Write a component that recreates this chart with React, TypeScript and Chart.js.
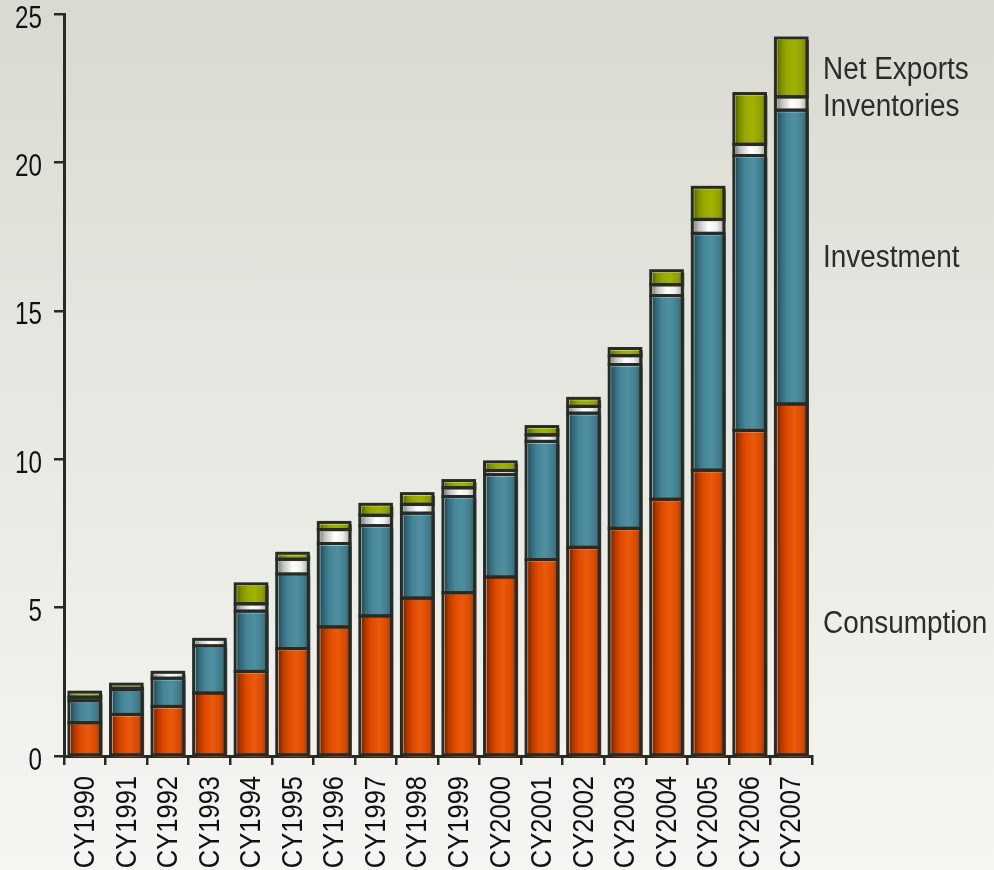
import { useEffect, useRef } from "react";
import { Chart, registerables } from "chart.js";
Chart.register(...registerables);

const categories = ["CY1990","CY1991","CY1992","CY1993","CY1994","CY1995","CY1996","CY1997","CY1998","CY1999","CY2000","CY2001","CY2002","CY2003","CY2004","CY2005","CY2006","CY2007"];
const consumption = [1.12,1.40,1.67,2.12,2.85,3.62,4.35,4.72,5.32,5.50,6.03,6.62,7.03,7.67,8.65,9.63,10.97,11.86];
const investment = [0.74,0.83,0.95,1.59,2.03,2.51,2.81,3.04,2.86,3.24,3.45,3.98,4.52,5.52,6.86,7.98,9.26,9.90];
const inventories = [0.12,0.05,0.20,0.22,0.25,0.50,0.47,0.35,0.30,0.30,0.14,0.22,0.23,0.30,0.37,0.47,0.38,0.45];
const netExports = [0.17,0.14,0,0,0.67,0.20,0.24,0.37,0.36,0.24,0.29,0.28,0.27,0.24,0.47,1.08,1.71,1.98];

const yTicks = [0, 5, 10, 15, 20, 25];
const seriesLabels = ["Net Exports", "Inventories", "Investment", "Consumption"];
const seriesLabelValues = [23.1, 21.85, 16.78, 4.43];

const SANS = "'Liberation Sans', Arial, sans-serif";
const BAR_FRACTION = 0.76;
const DARK = "#272b25";

type Stop = [number, string];
const consStops: Stop[] = [[0, "#7a2600"], [0.12, "#b03a00"], [0.3, "#e04a00"], [0.55, "#ea5a0c"], [0.8, "#d84800"], [1, "#8a2c00"]];
const invStops: Stop[] = [[0, "#244c56"], [0.12, "#356a78"], [0.3, "#46859a"], [0.55, "#4f90a0"], [0.8, "#3f7c8c"], [1, "#285660"]];
const invtStops: Stop[] = [[0, "#8a8a88"], [0.15, "#c4c4c2"], [0.45, "#ffffff"], [0.7, "#f0f0ee"], [1, "#9a9a98"]];
const netStops: Stop[] = [[0, "#5a6600"], [0.12, "#7e8e00"], [0.3, "#98a800"], [0.55, "#a2b200"], [0.8, "#8e9e00"], [1, "#606c00"]];

function makeGrad(stops: Stop[]) {
  return (c: any) => {
    const chart = c.chart;
    const xs = chart.scales && chart.scales.x;
    if (!xs || c.type !== "data" || !(xs.right > xs.left)) return stops[2][1];
    const cw = (xs.right - xs.left) / categories.length;
    const w = cw * BAR_FRACTION;
    const cx = xs.getPixelForValue(c.dataIndex);
    const g = chart.ctx.createLinearGradient(cx - w / 2, 0, cx + w / 2, 0);
    stops.forEach(([o, col]) => g.addColorStop(o, col));
    return g;
  };
}

const outlinePlugin = {
  id: "outline",
  beforeDatasetsDraw(chart: any) {
    chart.ctx.save();
    chart.ctx.translate(2, 2);
  },
  afterDatasetsDraw(chart: any) {
    const ctx = chart.ctx;
    ctx.restore();
    ctx.save();
    ctx.strokeStyle = DARK;
    ctx.lineWidth = 3;
    chart.data.datasets.forEach((_ds: any, di: number) => {
      const meta = chart.getDatasetMeta(di);
      meta.data.forEach((bar: any) => {
        const p = bar.getProps(["x", "y", "base", "width"], true);
        if (Math.abs(p.base - p.y) < 0.5) return;
        ctx.strokeRect(p.x - p.width / 2, Math.min(p.y, p.base), p.width, Math.abs(p.base - p.y));
      });
    });
    ctx.restore();
  },
};

const labelPlugin = {
  id: "textLabels",
  afterDraw(chart: any) {
    const ctx = chart.ctx;
    const ys = chart.scales.y;
    const xs = chart.scales.x;
    ctx.save();
    // series labels at right
    ctx.font = `31px ${SANS}`;
    ctx.fillStyle = "#2c2c2a";
    ctx.textAlign = "left";
    ctx.textBaseline = "middle";
    seriesLabels.forEach((t, i) => {
      ctx.save();
      ctx.translate(chart.chartArea.right + 11, ys.getPixelForValue(seriesLabelValues[i]));
      ctx.scale(0.9, 1);
      ctx.fillText(t, 0, 0);
      ctx.restore();
    });
    // y tick labels
    ctx.font = `31px ${SANS}`;
    ctx.fillStyle = "#111";
    ctx.textAlign = "right";
    yTicks.forEach((v) => {
      ctx.save();
      ctx.translate(42, ys.getPixelForValue(v) + 5);
      ctx.scale(0.78, 1);
      ctx.fillText(String(v), 0, 0);
      ctx.restore();
    });
    // x tick labels (rotated)
    ctx.font = `30px ${SANS}`;
    ctx.fillStyle = "#111";
    ctx.textAlign = "right";
    ctx.textBaseline = "middle";
    categories.forEach((c, i) => {
      ctx.save();
      ctx.translate(xs.getPixelForValue(i) + 1, chart.chartArea.bottom + 20);
      ctx.rotate(-Math.PI / 2);
      ctx.scale(0.85, 1);
      ctx.fillText(c, 0, 0);
      ctx.restore();
    });
    ctx.restore();
  },
};

export default function App() {
  const ref = useRef<HTMLCanvasElement | null>(null);
  useEffect(() => {
    if (!ref.current) return;
    const mk = (label: string, data: number[], stops: Stop[]) => ({
      label,
      data,
      backgroundColor: makeGrad(stops),
      borderWidth: 0,
      barPercentage: BAR_FRACTION,
      categoryPercentage: 1,
    });
    const chart = new Chart(ref.current, {
      type: "bar",
      data: {
        labels: categories,
        datasets: [
          mk("Consumption", consumption, consStops),
          mk("Investment", investment, invStops),
          mk("Inventories", inventories, invtStops),
          mk("Net Exports", netExports, netStops),
        ],
      },
      options: {
        responsive: false,
        devicePixelRatio: 1,
        animation: false,
        layout: { padding: { top: 14, right: 182, left: 0, bottom: 0 } },
        plugins: { legend: { display: false }, tooltip: { enabled: false } },
        scales: {
          x: {
            stacked: true,
            afterFit: (s: any) => { s.height = 114; s.paddingLeft = 0; s.paddingRight = 0; },
            grid: { drawOnChartArea: false, drawTicks: true, tickLength: 9, color: DARK, lineWidth: 2.5, offset: true },
            border: { color: DARK, width: 3 },
            ticks: {
              autoSkip: false, minRotation: 90, maxRotation: 90, padding: 5,
              color: "rgba(0,0,0,0)", font: { family: SANS, size: 26 },
            },
          },
          y: {
            stacked: true,
            min: 0,
            max: 25,
            afterFit: (s: any) => { s.width = 64; s.paddingTop = 0; s.paddingBottom = 0; },
            afterBuildTicks: (s: any) => { s.ticks = yTicks.map((v) => ({ value: v })); },
            grid: { drawOnChartArea: false, drawTicks: true, tickLength: 10, color: DARK, lineWidth: 2.5 },
            border: { color: DARK, width: 3 },
            ticks: { padding: 12, color: "rgba(0,0,0,0)", font: { family: SANS, size: 30 } },
          },
        },
      },
      plugins: [outlinePlugin, labelPlugin],
    });
    return () => chart.destroy();
  }, []);
  return (
    <div style={{ position: "fixed", left: 0, top: 0, width: 994, height: 870, background: "linear-gradient(to bottom, #d9d9d1 0%, #e6e6e0 40%, #f5f5f2 100%)" }}>
      <canvas ref={ref} width={994} height={870} style={{ display: "block" }} />
    </div>
  );
}
